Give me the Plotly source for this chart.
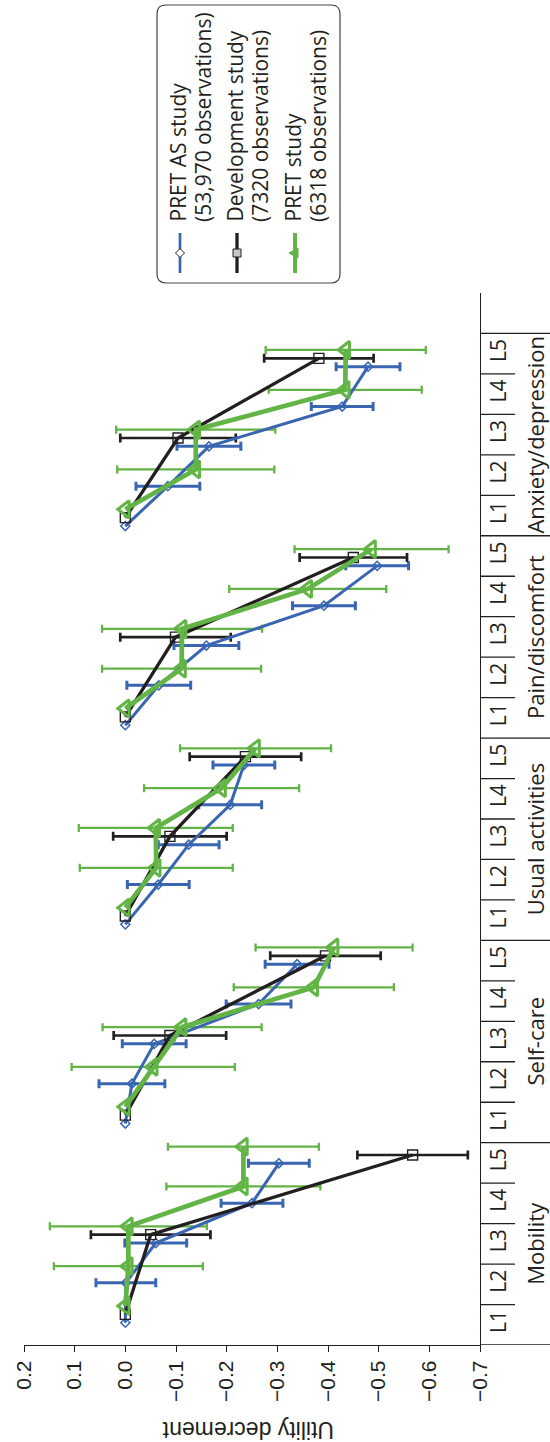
import plotly.graph_objects as go

# ---------------- data ----------------
dimensions = ["Mobility", "Self-care", "Usual activities", "Pain/discomfort", "Anxiety/depression"]
levels = ["L1", "L2", "L3", "L4", "L5"]

series_names = ["PRET AS study", "Development study", "PRET study"]
series_obs = ["(53,970 observations)", "(7320 observations)", "(6318 observations)"]

# PRET AS study (53,970 observations)
pret_as_mean = [
    [0.0, -0.001, -0.060, -0.250, -0.303],
    [0.0, -0.013, -0.057, -0.263, -0.339],
    [0.0, -0.065, -0.125, -0.207, -0.234],
    [0.0, -0.066, -0.160, -0.392, -0.497],
    [0.0, -0.084, -0.165, -0.428, -0.479],
]
pret_as_err = [
    [None, 0.059, 0.061, 0.061, 0.060],
    [None, 0.065, 0.063, 0.064, 0.063],
    [None, 0.061, 0.060, 0.062, 0.061],
    [None, 0.063, 0.064, 0.062, 0.062],
    [None, 0.063, 0.063, 0.061, 0.063],
]
# Development study (7320 observations) - levels L1, L3, L5 only
dev_mean = [
    [0.0, None, -0.050, None, -0.567],
    [0.0, None, -0.088, None, -0.395],
    [0.0, None, -0.088, None, -0.237],
    [0.0, None, -0.099, None, -0.450],
    [0.0, None, -0.104, None, -0.382],
]
dev_err = [
    [None, None, 0.118, None, 0.109],
    [None, None, 0.111, None, 0.109],
    [None, None, 0.112, None, 0.110],
    [None, None, 0.109, None, 0.106],
    [None, None, 0.114, None, 0.108],
]
# PRET study (6318 observations)
pret_mean = [
    [0.0, -0.006, -0.006, -0.233, -0.233],
    [0.0, -0.055, -0.112, -0.372, -0.412],
    [0.0, -0.061, -0.060, -0.190, -0.257],
    [0.0, -0.111, -0.112, -0.360, -0.486],
    [0.0, -0.139, -0.139, -0.434, -0.435],
]
pret_err = [
    [None, 0.147, 0.155, 0.152, 0.149],
    [None, 0.161, 0.157, 0.158, 0.155],
    [None, 0.151, 0.152, 0.153, 0.149],
    [None, 0.157, 0.158, 0.155, 0.152],
    [None, 0.155, 0.157, 0.151, 0.158],
]

x_tick_vals = [0.2, 0.1, 0.0, -0.1, -0.2, -0.3, -0.4, -0.5, -0.6, -0.7]
x_tick_text = ["0.2", "0.1", "0.0", "\u22120.1", "\u22120.2", "\u22120.3",
               "\u22120.4", "\u22120.5", "\u22120.6", "\u22120.7"]
axis_title = "Utility decrement"

# ---------------- styles ----------------
BLUE = "#3a66b1"
BLACK = "#231f20"
GREEN = "#62b446"
TXT = "#231f20"
CAT_FONT = "Open Sans, Noto Sans, sans-serif"
NUM_FONT = "Liberation Sans, Arial, sans-serif"

# plot area in pixels (for placing the hand-drawn legend)
PL, PT, PW, PH = 24, 293, 456, 1052


def px_x(px):
    return (px - PL) / PW


def px_y(py):
    return (PT + PH - py) / PH


n_lev = len(levels)


def build(mean, err, offset):
    xs, ys, exs, eys, es = [], [], [], [], []
    for d in range(len(dimensions)):
        for j in range(n_lev):
            v = mean[d][j]
            if v is None:
                continue
            k = d * n_lev + j + 1 + offset
            xs.append(v)
            ys.append(k)
            if err[d][j] is not None:
                exs.append(v)
                eys.append(k)
                es.append(err[d][j])
        xs.append(None)
        ys.append(None)
    return xs, ys, exs, eys, es


series = [
    (pret_as_mean, pret_as_err, 0.0, BLUE, 3.0, dict(symbol="diamond-open", size=7, color=BLUE, line=dict(width=1.5, color=BLUE)), 3.0, 4.5),
    (dev_mean, dev_err, 0.21, BLACK, 3.3, dict(symbol="square-open", size=10, color=BLACK, line=dict(width=1.4, color=BLACK)), 2.7, 4.5),
    (pret_mean, pret_err, 0.42, GREEN, 4.7, dict(symbol="triangle-left-open", size=15, color=GREEN, line=dict(width=3, color=GREEN)), 2.3, 4.0),
]

fig = go.Figure()

# error bars first (beneath the lines)
for (m, e, off, col, lw, mk, ew, cw), name in zip(series, series_names):
    xs, ys, exs, eys, es = build(m, e, off)
    fig.add_trace(go.Scatter(
        x=exs, y=eys, mode="markers", name=name + " CI",
        marker=dict(size=1, color="rgba(0,0,0,0)"),
        error_x=dict(type="data", array=es, symmetric=True, color=col, thickness=ew, width=cw),
        hoverinfo="skip", showlegend=False,
    ))

for (m, e, off, col, lw, mk, ew, cw), name in zip(series, series_names):
    xs, ys, exs, eys, es = build(m, e, off)
    fig.add_trace(go.Scatter(
        x=xs, y=ys, mode="lines+markers", name=name,
        line=dict(color=col, width=lw), marker=mk, connectgaps=False,
        showlegend=False,
    ))

# ---------------- category axis decorations ----------------
shapes = []
n_cat = len(dimensions) * n_lev
for b in range(n_cat + 1):
    bound = b + 0.5
    long_line = (b % n_lev == 0)
    shapes.append(dict(type="line", xref="paper", yref="y2",
                       x0=1, x1=1 + (70 if long_line else 35) / PW,
                       y0=bound, y1=bound, line=dict(color=BLACK, width=1.3)))

annotations = []
for d, dim in enumerate(dimensions):
    annotations.append(dict(text=dim, xref="paper", yref="y2", x=px_x(535), y=d * n_lev + 3,
                            textangle=-90, showarrow=False, xanchor="center", yanchor="middle",
                            font=dict(family=CAT_FONT, size=22, color=TXT)))

annotations.append(dict(text=axis_title, xref="paper", yref="paper", x=px_x(248), y=px_y(1430),
                        textangle=180, showarrow=False, xanchor="center", yanchor="middle",
                        font=dict(family=NUM_FONT, size=23, color=TXT)))

# ---------------- hand-drawn rotated legend ----------------
def rounded_rect(x0, y0, x1, y1, r):
    X = px_x
    Y = px_y
    p = (f"M {X(x0 + r)},{Y(y0)} L {X(x1 - r)},{Y(y0)} Q {X(x1)},{Y(y0)} {X(x1)},{Y(y0 + r)} "
         f"L {X(x1)},{Y(y1 - r)} Q {X(x1)},{Y(y1)} {X(x1 - r)},{Y(y1)} "
         f"L {X(x0 + r)},{Y(y1)} Q {X(x0)},{Y(y1)} {X(x0)},{Y(y1 - r)} "
         f"L {X(x0)},{Y(y0 + r)} Q {X(x0)},{Y(y0)} {X(x0 + r)},{Y(y0)} Z")
    return p


shapes.append(dict(type="path", xref="paper", yref="paper", path=rounded_rect(157, 5, 340, 283, 9),
                   line=dict(color="#444444", width=1.2), fillcolor="white", layer="above"))

leg_x = [180, 237, 295]
leg_cols = [BLUE, BLACK, GREEN]
leg_lw = [2.7, 3.3, 4.0]
cy = 253
for i in range(3):
    cx = leg_x[i]
    shapes.append(dict(type="line", xref="paper", yref="paper", x0=px_x(cx), x1=px_x(cx),
                       y0=px_y(233), y1=px_y(273), line=dict(color=leg_cols[i], width=leg_lw[i]), layer="above"))
X, Y = px_x, px_y
diamond = f"M {X(180)},{Y(cy - 4.5)} L {X(184.5)},{Y(cy)} L {X(180)},{Y(cy + 4.5)} L {X(175.5)},{Y(cy)} Z"
shapes.append(dict(type="path", xref="paper", yref="paper", path=diamond,
                   line=dict(color=BLACK, width=1), fillcolor="white", layer="above"))
shapes.append(dict(type="rect", xref="paper", yref="paper", x0=X(233), x1=X(241), y0=Y(249), y1=Y(257),
                   line=dict(color=BLACK, width=1), fillcolor="#c8c8c8", layer="above"))
tri = f"M {X(289)},{Y(cy)} L {X(298)},{Y(cy - 5)} L {X(298)},{Y(cy + 5)} Z"
shapes.append(dict(type="path", xref="paper", yref="paper", path=tri,
                   line=dict(color=GREEN, width=1), fillcolor=GREEN, layer="above"))

txt_x1 = [178, 235, 293]
txt_x2 = [203, 260, 318]
for i in range(3):
    for tx, t in ((txt_x1[i], series_names[i]), (txt_x2[i], series_obs[i])):
        annotations.append(dict(text=t, xref="paper", yref="paper", x=X(tx), y=Y(223),
                                textangle=-90, showarrow=False, xanchor="center", yanchor="bottom",
                                borderpad=0, font=dict(family=CAT_FONT, size=21, color=TXT)))

fig.update_layout(
    width=550, height=1442,
    margin=dict(l=PL, r=550 - PL - PW, t=PT, b=1442 - PT - PH, autoexpand=False),
    paper_bgcolor="white", plot_bgcolor="white",
    showlegend=False,
    xaxis=dict(range=[0.2, -0.7], tickmode="array", tickvals=x_tick_vals, ticktext=x_tick_text,
               tickangle=-90, ticks="outside", ticklen=6, tickwidth=1.3, tickcolor=BLACK,
               showline=True, linecolor=BLACK, linewidth=1.3, showgrid=False, zeroline=False,
               tickfont=dict(family=NUM_FONT, size=21, color=TXT), automargin=False),
    yaxis=dict(range=[0.44, 26.85], visible=False, showgrid=False, zeroline=False),
    yaxis2=dict(range=[0.5, 26.5], overlaying="y", side="right", anchor="x",
                tickmode="array", tickvals=list(range(1, n_cat + 1)), ticktext=levels * len(dimensions),
                tickangle=-90, ticks="", showline=True, linecolor=BLACK, linewidth=1.3,
                showgrid=False, zeroline=False, automargin=False,
                tickfont=dict(family=CAT_FONT, size=21, color=TXT)),
    shapes=shapes,
    annotations=annotations,
)

fig.write_html("out.html", config={"displayModeBar": False},
               post_script="document.body.style.margin='0px';document.body.style.overflow='hidden';")
